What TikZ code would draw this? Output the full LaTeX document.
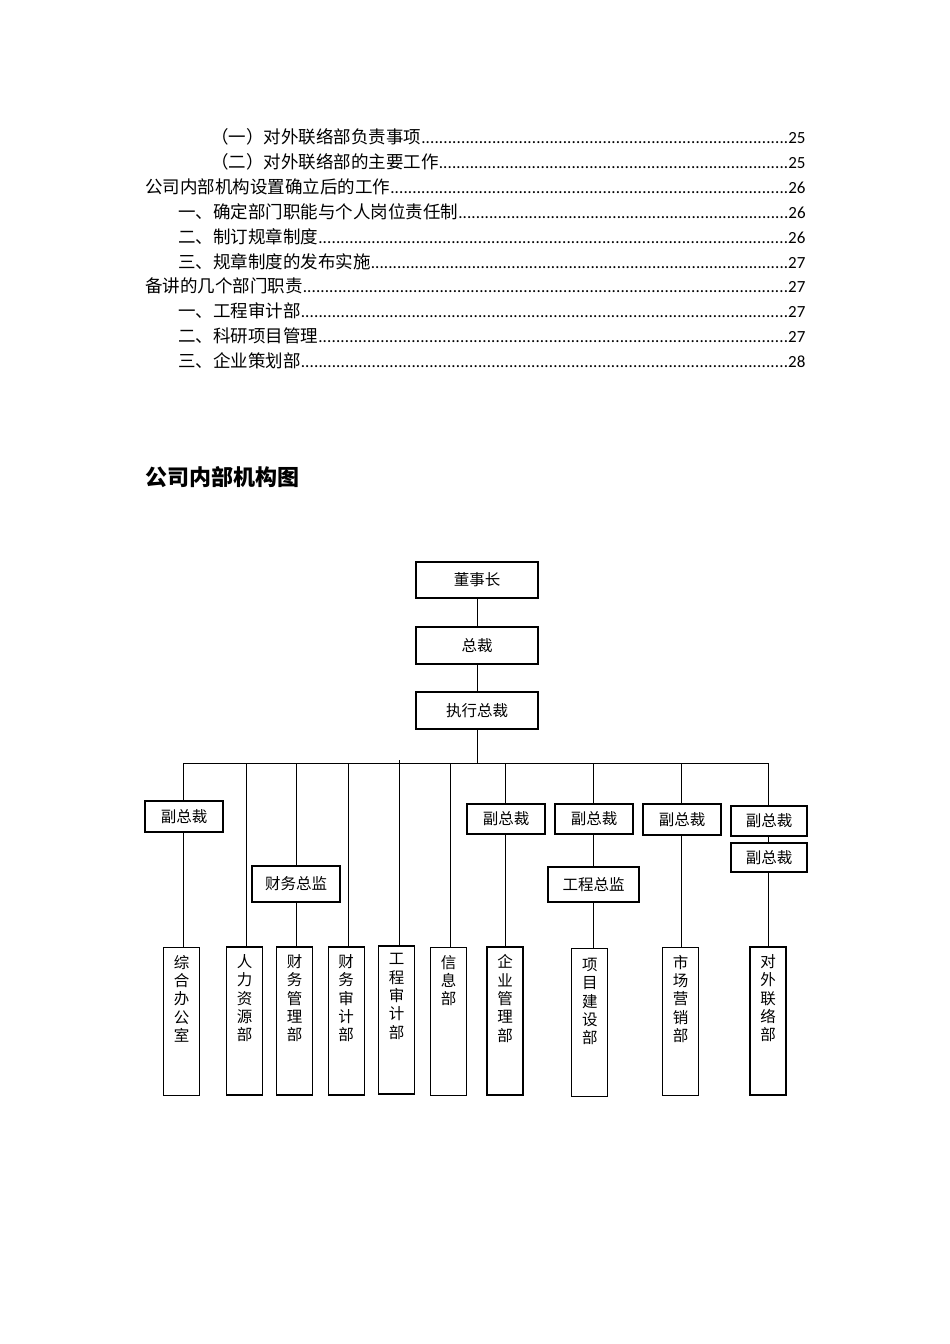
\documentclass[tikz,border=0pt]{standalone}
\usepackage{fontspec}
\newfontfamily\cjk{Noto Sans CJK SC}
\newfontfamily\numf{Carlito}
\newcommand\tocdots{\xleaders\hbox to 4.4pt{\hss{\numf\fontsize{17}{20}\selectfont.}\hss}\hfill}
\newcommand\tocnum[1]{{\numf\fontsize{17}{20}\selectfont #1}}
\begin{document}
\begin{tikzpicture}[x=1pt,y=-1pt,
  box/.style={draw, line width=1.1pt, fill=white, inner sep=0pt, font=\cjk\fontsize{15.5}{18}\selectfont},
  tall/.style={draw, line width=1.1pt, fill=white, inner sep=0pt, minimum width=36pt, minimum height=148pt},
  conn/.style={line width=0.8pt},
  toc/.style={anchor=base west, inner sep=0pt, font=\cjk\fontsize{17.5}{20}\selectfont},
  vtext/.style={anchor=north, inner sep=0pt, align=center, font=\cjk\fontsize{15.5}{18.3}\selectfont}]

\useasboundingbox[fill=white] (0,0) rectangle (950,1344);

% ---------- table of contents ----------
\node[toc] (c1) at (211,143.5) {\makebox[595pt][l]{（一）对外联络部负责事项\tocdots\tocnum{25}}};
\node[toc] (c2) at (211,168.4) {\makebox[595pt][l]{（二）对外联络部的主要工作\tocdots\tocnum{25}}};
\node[toc] (c3) at (145,193.3) {\makebox[661pt][l]{公司内部机构设置确立后的工作\tocdots\tocnum{26}}};
\node[toc] (c4) at (178,218.2) {\makebox[628pt][l]{一、确定部门职能与个人岗位责任制\tocdots\tocnum{26}}};
\node[toc] (c5) at (178,243.1) {\makebox[628pt][l]{二、制订规章制度\tocdots\tocnum{26}}};
\node[toc] (c6) at (178,268.0) {\makebox[628pt][l]{三、规章制度的发布实施\tocdots\tocnum{27}}};
\node[toc] (c7) at (145,292.9) {\makebox[661pt][l]{备讲的几个部门职责\tocdots\tocnum{27}}};
\node[toc] (c8) at (178,317.8) {\makebox[628pt][l]{一、工程审计部\tocdots\tocnum{27}}};
\node[toc] (c9) at (178,342.7) {\makebox[628pt][l]{二、科研项目管理\tocdots\tocnum{27}}};
\node[toc] (c10) at (178,367.6) {\makebox[628pt][l]{三、企业策划部\tocdots\tocnum{28}}};

% ---------- title ----------
\node[anchor=base west, inner sep=0pt, font=\cjk\bfseries\fontsize{22}{26}\selectfont] (title) at (145,485.5) {公司内部机构图};

% ---------- top chain ----------
\node[box, minimum width=122pt, minimum height=36pt] (chair) at (477,580) {董事长};
\node[box, minimum width=122pt, minimum height=37pt] (pres) at (477,645.5) {总裁};
\node[box, minimum width=122pt, minimum height=37pt] (exec) at (477,710.5) {执行总裁};

% bus coordinates
\coordinate (b1) at (183,763);
\coordinate (b2) at (246,763);
\coordinate (b3) at (296,763);
\coordinate (b4) at (348,763);
\coordinate (b5) at (399,763);
\coordinate (b6) at (450,763);
\coordinate (b7) at (505,763);
\coordinate (b8) at (593,763);
\coordinate (b9) at (681,763);
\coordinate (b10) at (768,763);

% ---------- middle boxes ----------
\node[box, minimum width=78pt, minimum height=31pt] (vp1) at (184,816.5) {副总裁};
\node[box, minimum width=88pt, minimum height=36pt] (cfo) at (296,884) {财务总监};
\node[box, minimum width=78pt, minimum height=30pt] (vp2) at (506,819) {副总裁};
\node[box, minimum width=78pt, minimum height=30pt] (vp3) at (594,819) {副总裁};
\node[box, minimum width=91pt, minimum height=35pt] (eng) at (593.5,884.5) {工程总监};
\node[box, minimum width=78pt, minimum height=31pt] (vp4) at (682,819.5) {副总裁};
\node[box, minimum width=76pt, minimum height=30pt] (vp5) at (769,821) {副总裁};
\node[box, minimum width=76pt, minimum height=29pt] (vp6) at (769,857.5) {副总裁};

% ---------- bottom boxes ----------
\node[tall] (d1) at (181.5,1021.5) {};
\node[tall] (d2) at (244.5,1021) {};
\node[tall] (d3) at (294.7,1021) {};
\node[tall] (d4) at (346.2,1021) {};
\node[tall] (d5) at (396.5,1020) {};
\node[tall] (d6) at (448.7,1021.5) {};
\node[tall] (d7) at (505,1021) {};
\node[tall] (d8) at (589.8,1022.5) {};
\node[tall] (d9) at (680.7,1021.5) {};
\node[tall] (d10) at (768,1021) {};

\node[vtext] (l1) at ([yshift=-8pt]d1.north) {综\\合\\办\\公\\室};
\node[vtext] (l2) at ([yshift=-8pt]d2.north) {人\\力\\资\\源\\部};
\node[vtext] (l3) at ([yshift=-8pt]d3.north) {财\\务\\管\\理\\部};
\node[vtext] (l4) at ([yshift=-8pt]d4.north) {财\\务\\审\\计\\部};
\node[vtext] (l5) at ([yshift=-8pt]d5.north) {工\\程\\审\\计\\部};
\node[vtext] (l6) at ([yshift=-8pt]d6.north) {信\\息\\部};
\node[vtext] (l7) at ([yshift=-8pt]d7.north) {企\\业\\管\\理\\部};
\node[vtext] (l8) at ([yshift=-10pt]d8.north) {项\\目\\建\\设\\部};
\node[vtext] (l9) at ([yshift=-8pt]d9.north) {市\\场\\营\\销\\部};
\node[vtext] (l10) at ([yshift=-8pt]d10.north) {对\\外\\联\\络\\部};

% ---------- connectors ----------
\draw[conn] (chair.south) -- (pres.north);
\draw[conn] (pres.south) -- (exec.north);
\draw[conn] (exec.south) -- (exec.south |- b1);
\draw[conn] (b1) -- (b10);

\draw[conn] (b1) -- (b1 |- vp1.north);
\draw[conn] (b1 |- vp1.south) -- (b1 |- d1.north);
\draw[conn] (b2) -- (b2 |- d2.north);
\draw[conn] (b3) -- (b3 |- cfo.north);
\draw[conn] (b3 |- cfo.south) -- (b3 |- d3.north);
\draw[conn] (b4) -- (b4 |- d4.north);
\draw[conn] ([yshift=3pt]b5) -- (b5 |- d5.north);
\draw[conn] (b6) -- (b6 |- d6.north);
\draw[conn] (b7) -- (b7 |- vp2.north);
\draw[conn] (b7 |- vp2.south) -- (b7 |- d7.north);
\draw[conn] (b8) -- (b8 |- vp3.north);
\draw[conn] (b8 |- vp3.south) -- (b8 |- eng.north);
\draw[conn] (b8 |- eng.south) -- (b8 |- d8.north);
\draw[conn] (b9) -- (b9 |- vp4.north);
\draw[conn] (b9 |- vp4.south) -- (b9 |- d9.north);
\draw[conn] (b10) -- (b10 |- vp5.north);
\draw[conn] (b10 |- vp5.south) -- (b10 |- vp6.north);
\draw[conn] (b10 |- vp6.south) -- (b10 |- d10.north);
\end{tikzpicture}
\end{document}
